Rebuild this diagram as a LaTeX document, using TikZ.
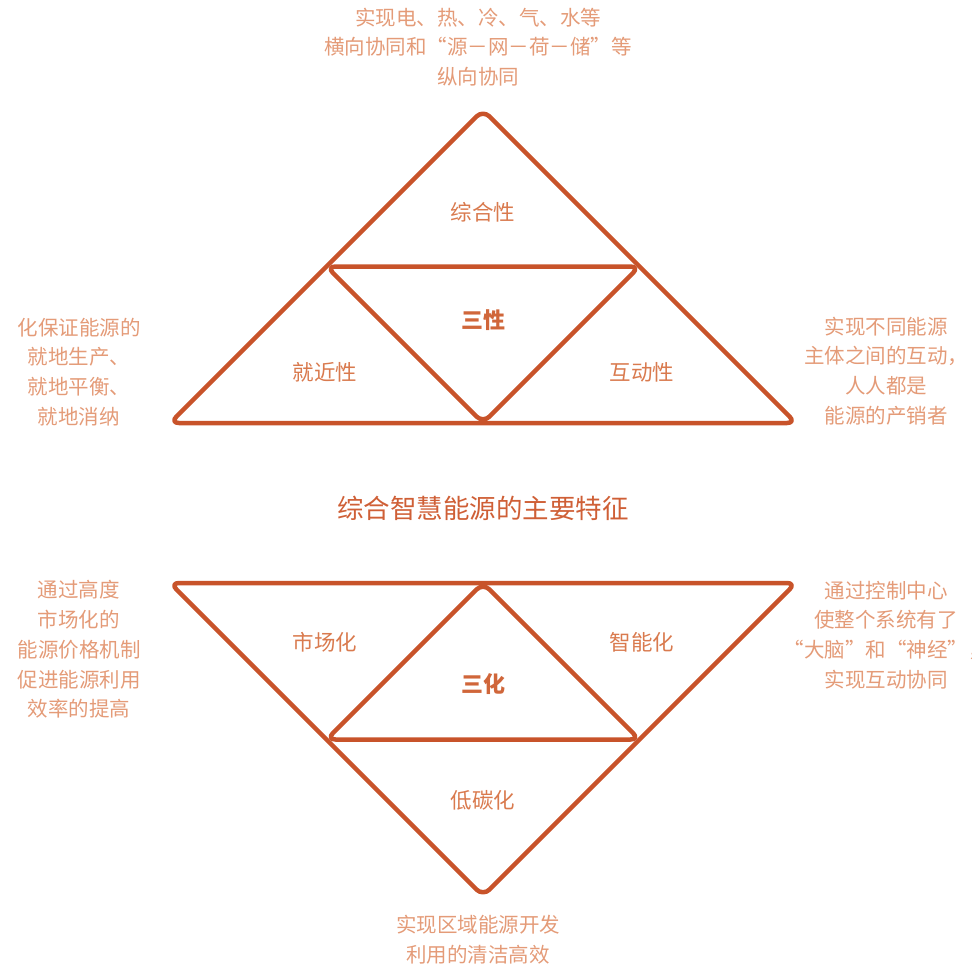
\documentclass[tikz,border=0pt]{standalone}
\usepackage{fontspec}
\setmainfont{Noto Sans CJK SC}
\definecolor{stroke}{HTML}{C8532A}
\definecolor{lab}{HTML}{D97A4E}
\definecolor{side}{HTML}{E49B78}
\definecolor{ttl}{HTML}{CF5F36}
\definecolor{core}{HTML}{D0663A}
\tikzset{
  tri/.style={draw=stroke, line width=4.5pt, rounded corners=9pt, line join=round},
  sidetext/.style={text=side, align=center, inner sep=0pt, font=\fontsize{20.5}{29.7}\selectfont},
  label/.style={text=lab, inner sep=0pt, font=\fontsize{21.5}{26}\selectfont},
  coretext/.style={text=core, inner sep=0pt, font=\fontsize{22}{26}\selectfont\bfseries},
  titletext/.style={text=ttl, inner sep=0pt, font=\fontsize{26.5}{30}\selectfont}
}
\begin{document}
\begin{tikzpicture}[x=1pt,y=-1pt]
\useasboundingbox (0,0) rectangle (972,966);
% top group
\coordinate (TA) at (483,110);
\coordinate (TL) at (326.5,266.5);
\coordinate (TR) at (639.5,266.5);
\coordinate (TBL) at (170,423);
\coordinate (TBM) at (483,423);
\coordinate (TBR) at (796,423);
\draw[tri] (TA) -- (TBL) -- (TBR) -- cycle;
\draw[tri] (TL) -- (TR) -- (TBM) -- cycle;
% bottom group
\coordinate (BTL) at (170,583);
\coordinate (BTM) at (483,583);
\coordinate (BTR) at (796,583);
\coordinate (BL) at (326.5,739.5);
\coordinate (BR) at (639.5,739.5);
\coordinate (BA) at (483,896);
\draw[tri] (BTL) -- (BTR) -- (BA) -- cycle;
\draw[tri] (BTM) -- (BR) -- (BL) -- cycle;
% labels
\node[label] (zh) at (483,212) {综合性};
\node[coretext] (sx) at (483,320) {三性};
\node[label] (jj) at (325,372) {就近性};
\node[label] (hd) at (642,372) {互动性};
\node[titletext] (title) at (483,508) {综合智慧能源的主要特征};
\node[label] (sc) at (325,642) {市场化};
\node[label] (zn) at (642,642) {智能化};
\node[coretext] (sh) at (483,684) {三化};
\node[label] (dt) at (483,800) {低碳化};
% side texts
\node[sidetext] (t1) at (478,47) {实现电、热、冷、气、水等\\横向协同和“源－网－荷－储”等\\纵向协同};
\node[sidetext] (t2) at (79,372) {化保证能源的\\就地生产、\\就地平衡、\\就地消纳};
\node[sidetext] (t3) at (886,371) {实现不同能源\\主体之间的互动，\\人人都是\\能源的产销者};
\node[sidetext] (t4) at (79,649.5) {通过高度\\市场化的\\能源价格机制\\促进能源利用\\效率的提高};
\node[sidetext] (t5) at (886,635) {通过控制中心\\使整个系统有了\\“大脑”和“神经”，\\实现互动协同};
\node[sidetext] (t6) at (478,940) {实现区域能源开发\\利用的清洁高效};
\end{tikzpicture}
\end{document}
